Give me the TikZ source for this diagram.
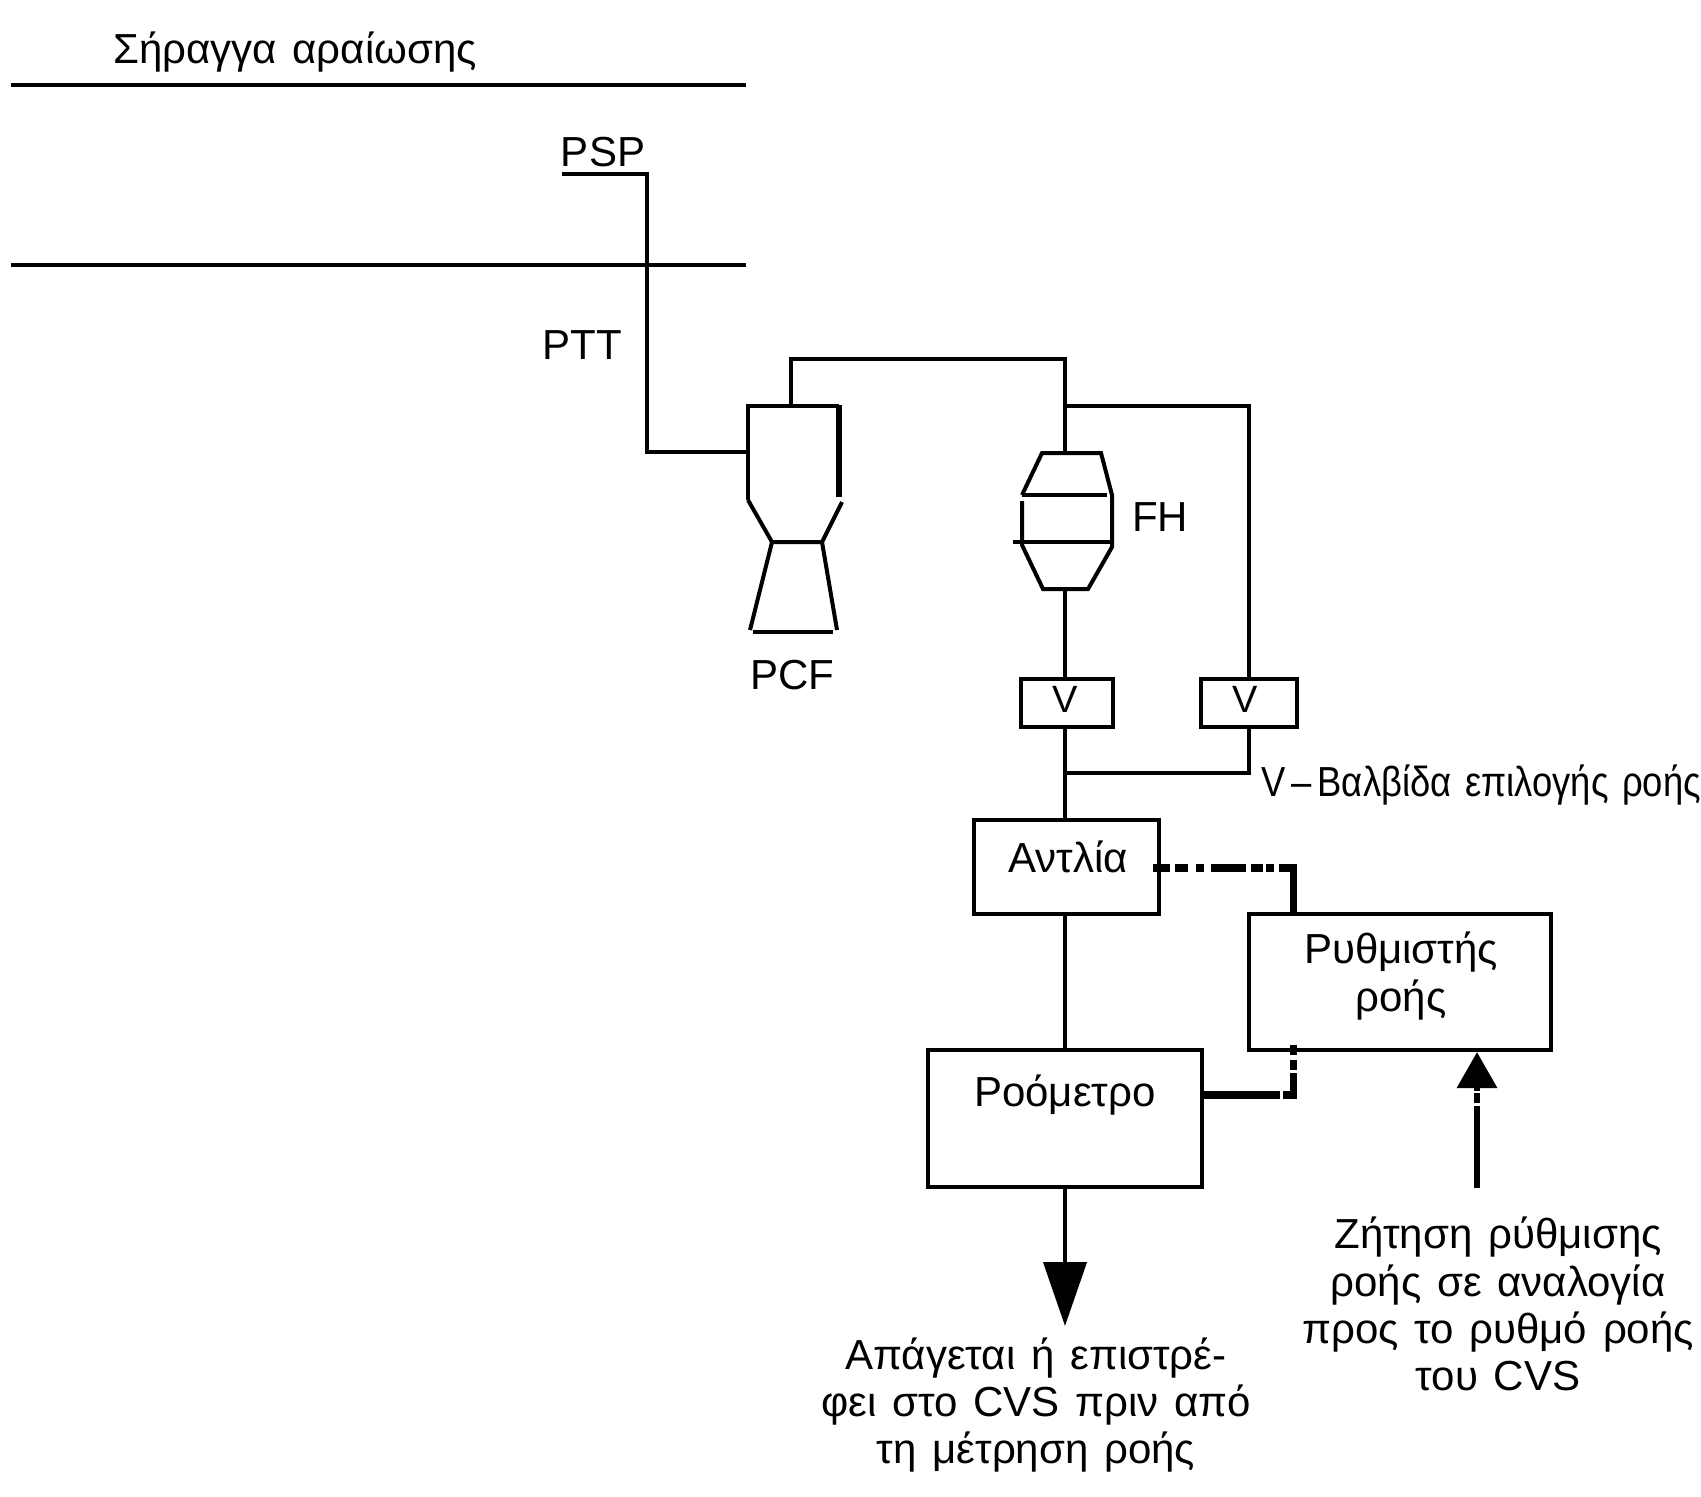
\documentclass[tikz,border=0pt]{standalone}
\usepackage{graphicx}
\usepackage{fontspec}
\setmainfont[WordSpace=1.35]{Liberation Sans}
\usetikzlibrary{arrows.meta}
\tikzset{
  wire/.style={line width=2pt,line cap=butt,line join=miter},
  heavy/.style={line width=3.7pt,line cap=butt,line join=miter},
  boxnode/.style={draw,line width=2pt,inner sep=0pt,outer sep=0pt},
  txt/.style={inner sep=0pt,outer sep=0pt,align=center,font=\fontsize{21}{23.6}\selectfont},
  vtxt/.style={inner sep=0pt,outer sep=0pt,font=\fontsize{19}{21}\selectfont},
  dashpipe/.style={heavy,dash pattern=on 8.5pt off 2.5pt on 6.5pt off 4pt on 4pt off 3.5pt on 17.5pt off 2.5pt on 6pt off 1.5pt on 4pt off 2.5pt},
  dashret/.style={heavy,dash pattern=on 16.25pt off 1.5pt on 5pt off 2.5pt on 5pt off 20pt},
  dashsig/.style={line width=3.2pt,dash pattern=on 41pt off 1.5pt on 5pt off 1pt on 5pt off 10pt}
}
\begin{document}
\begin{tikzpicture}[x=0.5pt,y=-0.5pt]
\useasboundingbox (0,0) rectangle (1701,1496);
\fill[white] (0,0) rectangle (1701,1496);

% boxes
\node[boxnode,minimum width=46pt,minimum height=24pt] (v1) at (1067,703) {};
\node[boxnode,minimum width=48pt,minimum height=24pt] (v2) at (1249,703) {};
\node[boxnode,minimum width=92.5pt,minimum height=47pt] (ant) at (1066.5,867) {};
\node[boxnode,minimum width=151pt,minimum height=68pt] (reg) at (1400,982) {};
\node[boxnode,minimum width=137.25pt,minimum height=68.5pt] (rom) at (1064.75,1118.5) {};

% texts
\node[txt] (tTunnel) at (295,52) {Σήραγγα αραίωσης};
\node[txt] (tPSP) at (603,152) {PSP};
\node[txt] (tPTT) at (582,345) {PTT};
\node[txt] (tPCF) at (792,675) {PCF};
\node[txt] (tFH) at (1160,517) {FH};
\node[vtxt] (tV1) at (1065,699) {V};
\node[vtxt] (tV2) at (1245,699) {V};
\node[txt,anchor=west] (tV) at (1261,785) {\resizebox{220pt}{\height}{V\,–\,Βαλβίδα επιλογής ροής}};
\node[txt] (tAnt) at (1068,857) {Αντλία};
\node[txt] (tReg) at (1401,976) {Ρυθμιστής\\ροής};
\node[txt] (tRom) at (1065,1095) {Ροόμετρο};
\node[txt] (tReq) at (1498,1304) {Ζήτηση ρύθμισης\\ροής σε αναλογία\\προς το ρυθμό ροής\\του CVS};
\node[txt] (tOut) at (1036,1405) {Απάγεται ή επιστρέ-\\φει στο CVS πριν από\\τη μέτρηση ροής};

% named points
\coordinate (psp0) at (562,174);
\coordinate (psp1) at (647,174);
\coordinate (psp2) at (647,452);
\coordinate (pcfIn) at (748,452);
\coordinate (pcfOut) at (791,406);
\coordinate (top1) at (791,359);
\coordinate (top2) at (1065,359);
\coordinate (tee) at (1065,406);
\coordinate (teeR) at (1249,406);
\coordinate (fhT) at (1065,453);
\coordinate (fhB) at (1065,589);
\coordinate (joinL) at (1065,773);
\coordinate (joinR) at (1249,773);
\coordinate (outTip) at (1065,1326);
\coordinate (c1) at (1153,868);
\coordinate (c2a) at (1280,868);
\coordinate (c2) at (1293.5,868);
\coordinate (d1) at (1280,1095);
\coordinate (d1b) at (1283,1095);
\coordinate (d2) at (1293.5,1095);
\coordinate (d3) at (1293.5,1045);
\coordinate (reqS) at (1477,1188);
\coordinate (reqT) at (1477,1052);
\coordinate (w1a) at (11,85); \coordinate (w1b) at (746,85);
\coordinate (w2a) at (11,265); \coordinate (w2b) at (746,265);

% tunnel walls
\draw[wire] (w1a) -- (w1b);
\draw[wire] (w2a) -- (w2b);

% PCF shape
\draw[wire] (748,500) -- (748,406) -- (839,406);
\draw[line width=3.4pt] (839,405) -- (839,497);
\draw[wire] (748,500) -- (772,542) -- (822,542) -- (842,502);
\draw[wire] (772,542) -- (750,630);
\draw[wire] (822,542) -- (837,630);
\draw[wire] (753,632) -- (833,632);

% FH shape
\draw[wire] (1022,495) -- (1042,453) -- (1101,453) -- (1112,495) -- (1112,547) -- (1088,589) -- (1043,589) -- (1022,545) -- (1022,501);
\draw[wire] (1022,495) -- (1107,495);
\draw[wire] (1013,542) -- (1112,542);

% pipes
\draw[wire] (psp0) -- (psp1) -- (psp2) -- (pcfIn);
\draw[wire] (pcfOut) -- (top1) -- (top2) -- (fhT);
\draw[wire] (tee) -- (teeR) -- (v2.north -| teeR);
\draw[wire] (fhB) -- (v1.north -| fhB);
\draw[wire] (v1.south -| joinL) -- (ant.north -| joinL);
\draw[wire] (v2.south -| joinR) -- (joinR) -- (joinL);
\draw[wire] (ant.south -| joinL) -- (rom.north -| joinL);
\draw[wire,-{Triangle[length=32pt,width=21.5pt]}] (rom.south -| joinL) -- (outTip);

% control lines
\draw[dashpipe] (c1) -- (c2a);
\draw[heavy] (c2a) -- (c2) -- (reg.north -| c2);
\draw[heavy] (rom.east |- d1) -- (d1);
\draw[dashret] (d1b) -- (d2) -- (d3);
\draw[dashsig,-{Triangle[length=18pt,width=19.5pt]}] (reqS) -- (reqT);
\end{tikzpicture}
\end{document}
